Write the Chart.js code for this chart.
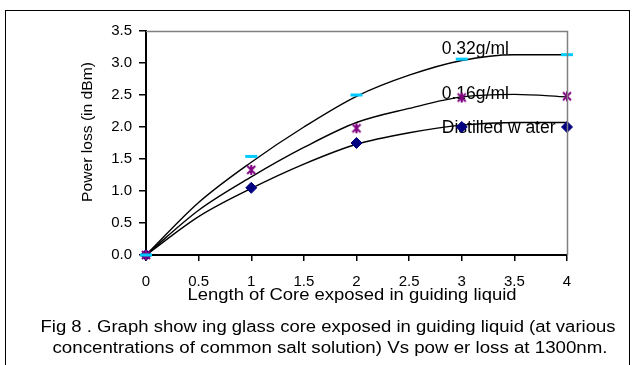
<!DOCTYPE html>
<html><head><meta charset="utf-8">
<script src="https://cdn.jsdelivr.net/npm/chart.js@4/dist/chart.umd.min.js"></script>
<style>html,body{margin:0;padding:0;background:#fff;}#wrap{width:635px;height:365px;position:relative}</style>
</head><body><div id="wrap"><canvas id="c" width="635" height="365"></canvas></div>
<script>
// Measured points (Length of core exposed vs power loss)
const lengths = [0, 1, 2, 3, 4];
const salt032 = [0, 1.54, 2.50, 3.06, 3.13];
const salt016 = [0, 1.33, 1.98, 2.46, 2.48];
const water   = [0, 1.05, 1.75, 2.00, 2.00];
// Smoothed fitted curves
const curveX   = [0, 0.5, 1, 1.5, 2, 2.5, 3, 3.5, 4];
const curve032 = [0, 0.82, 1.45, 2.00, 2.48, 2.81, 3.04, 3.13, 3.13];
const curve016 = [0, 0.70, 1.22, 1.68, 2.07, 2.29, 2.47, 2.51, 2.47];
const curveWat = [0, 0.60, 1.04, 1.42, 1.73, 1.91, 2.03, 2.07, 2.07];
const seriesNames = ['0.32g/ml', '0.16g/ml', 'Distilled w ater'];
const xTickValues = [0, 0.5, 1, 1.5, 2, 2.5, 3, 3.5, 4];
const yTickValues = [0, 0.5, 1, 1.5, 2, 2.5, 3, 3.5];
const xTitle = 'Length of Core exposed in guiding liquid';
const yTitle = 'Power loss (in dBm)';
const captionLines = [
  'Fig 8 . Graph show ing glass core exposed in guiding liquid (at various',
  'concentrations of common salt solution) Vs pow er loss at 1300nm.'
];

const FONT = '"Liberation Sans", Arial, sans-serif';
const toXY = (xs, ys) => xs.map((x, i) => ({x: x, y: ys[i]}));

// asterisk marker
const star = document.createElement('canvas');
star.width = 12; star.height = 12;
(function(){
  const g = star.getContext('2d');
  g.strokeStyle = '#800080'; g.lineWidth = 2;
  g.beginPath();
  g.moveTo(2,2); g.lineTo(10,10);
  g.moveTo(10,2); g.lineTo(2,10);
  g.moveTo(6,1); g.lineTo(6,11);
  g.stroke();
})();

const labelAnchors = [
  {text: seriesNames[0], x: 2.81, y: 3.22},
  {text: seriesNames[1], x: 2.81, y: 2.52},
  {text: seriesNames[2], x: 2.81, y: 1.98}
];

function fitText(ctx, text, cx, cy, size, width, rotate) {
  ctx.save();
  ctx.font = size + 'px ' + FONT;
  const w = ctx.measureText(text).width;
  ctx.translate(cx, cy);
  if (rotate) ctx.rotate(-Math.PI / 2);
  ctx.scale(width / w, 1);
  ctx.textAlign = 'center';
  ctx.textBaseline = 'middle';
  ctx.fillStyle = '#000';
  ctx.fillText(text, 0, 0);
  ctx.restore();
}

const decor = {
  id: 'decor',
  beforeDraw(chart) {
    const ctx = chart.ctx;
    ctx.save();
    ctx.fillStyle = '#fff';
    ctx.fillRect(0, 0, chart.width, chart.height);
    ctx.strokeStyle = '#000';
    ctx.lineWidth = 1;
    ctx.strokeRect(5.5, 10.5, 624, 360);
    ctx.restore();
  },
  beforeDatasetsDraw(chart) {
    const ctx = chart.ctx, xs = chart.scales.x, ys = chart.scales.y;
    ctx.save();
    ctx.font = '17.5px ' + FONT;
    ctx.fillStyle = '#000';
    ctx.textBaseline = 'middle';
    ctx.textAlign = 'left';
    labelAnchors.forEach(l => ctx.fillText(l.text, xs.getPixelForValue(l.x), ys.getPixelForValue(l.y)));
    ctx.restore();
  },
  afterDraw(chart) {
    const ctx = chart.ctx, a = chart.chartArea;
    ctx.save();
    ctx.strokeStyle = '#808080';
    ctx.lineWidth = 1.5;
    ctx.beginPath();
    ctx.moveTo(a.left, a.top + 0.5);
    ctx.lineTo(a.right + 0.5, a.top + 0.5);
    ctx.lineTo(a.right + 0.5, a.bottom);
    ctx.stroke();
    ctx.restore();
    fitText(ctx, xTitle, 352, 296, 16, 329, false);
    fitText(ctx, yTitle, 88, 132, 15.5, 140, true);
    fitText(ctx, captionLines[0], 328, 328, 16, 575, false);
    fitText(ctx, captionLines[1], 330, 349, 16, 555, false);
  }
};

new Chart(document.getElementById('c'), {
  type: 'scatter',
  data: {
    datasets: [
      {label: seriesNames[0], data: toXY(lengths, salt032), pointStyle: 'line', pointRadius: 6, pointBorderWidth: 3, borderColor: '#00CCFF', backgroundColor: '#00CCFF', showLine: false, order: 1},
      {label: seriesNames[1], data: toXY(lengths, salt016), pointStyle: star, pointRadius: 6, showLine: false, order: 1},
      {label: seriesNames[2], data: toXY(lengths, water), pointStyle: 'rectRot', pointRadius: 5.5, pointBorderWidth: 1, borderColor: '#000080', backgroundColor: '#000080', showLine: false, order: 1},
      {label: 'fit1', data: toXY(curveX, curve032), showLine: true, pointRadius: 0, borderColor: '#000', borderWidth: 1.4, cubicInterpolationMode: 'monotone', order: 2},
      {label: 'fit2', data: toXY(curveX, curve016), showLine: true, pointRadius: 0, borderColor: '#000', borderWidth: 1.4, cubicInterpolationMode: 'monotone', order: 2},
      {label: 'fit3', data: toXY(curveX, curveWat), showLine: true, pointRadius: 0, borderColor: '#000', borderWidth: 1.4, cubicInterpolationMode: 'monotone', order: 2}
    ]
  },
  options: {
    responsive: false,
    animation: false,
    devicePixelRatio: 1,
    clip: false,
    layout: {padding: {left: 0, right: 68, top: 31, bottom: 58}},
    plugins: {legend: {display: false}, tooltip: {enabled: false}},
    scales: {
      x: {
        type: 'linear', min: 0, max: 4,
        afterBuildTicks: s => { s.ticks = xTickValues.map(v => ({value: v})); },
        afterFit: s => { s.height = 52; },
        ticks: {font: {family: FONT, size: 15}, color: '#000', padding: 12, maxRotation: 0, callback: v => String(v)},
        grid: {drawOnChartArea: false, drawTicks: true, tickLength: 6, color: '#000', lineWidth: 1.5},
        border: {display: true, color: '#000', width: 2},
        title: {display: false}
      },
      y: {
        type: 'linear', min: 0, max: 3.5,
        afterBuildTicks: s => { s.ticks = yTickValues.map(v => ({value: v})); },
        afterFit: s => { s.width = 146; },
        ticks: {font: {family: FONT, size: 15}, color: '#000', padding: 7, callback: v => Number(v).toFixed(1)},
        grid: {drawOnChartArea: false, drawTicks: true, tickLength: 7, color: '#000', lineWidth: 1.5},
        border: {display: true, color: '#000', width: 2},
        title: {display: false}
      }
    }
  },
  plugins: [decor]
});
</script>
</body></html>
